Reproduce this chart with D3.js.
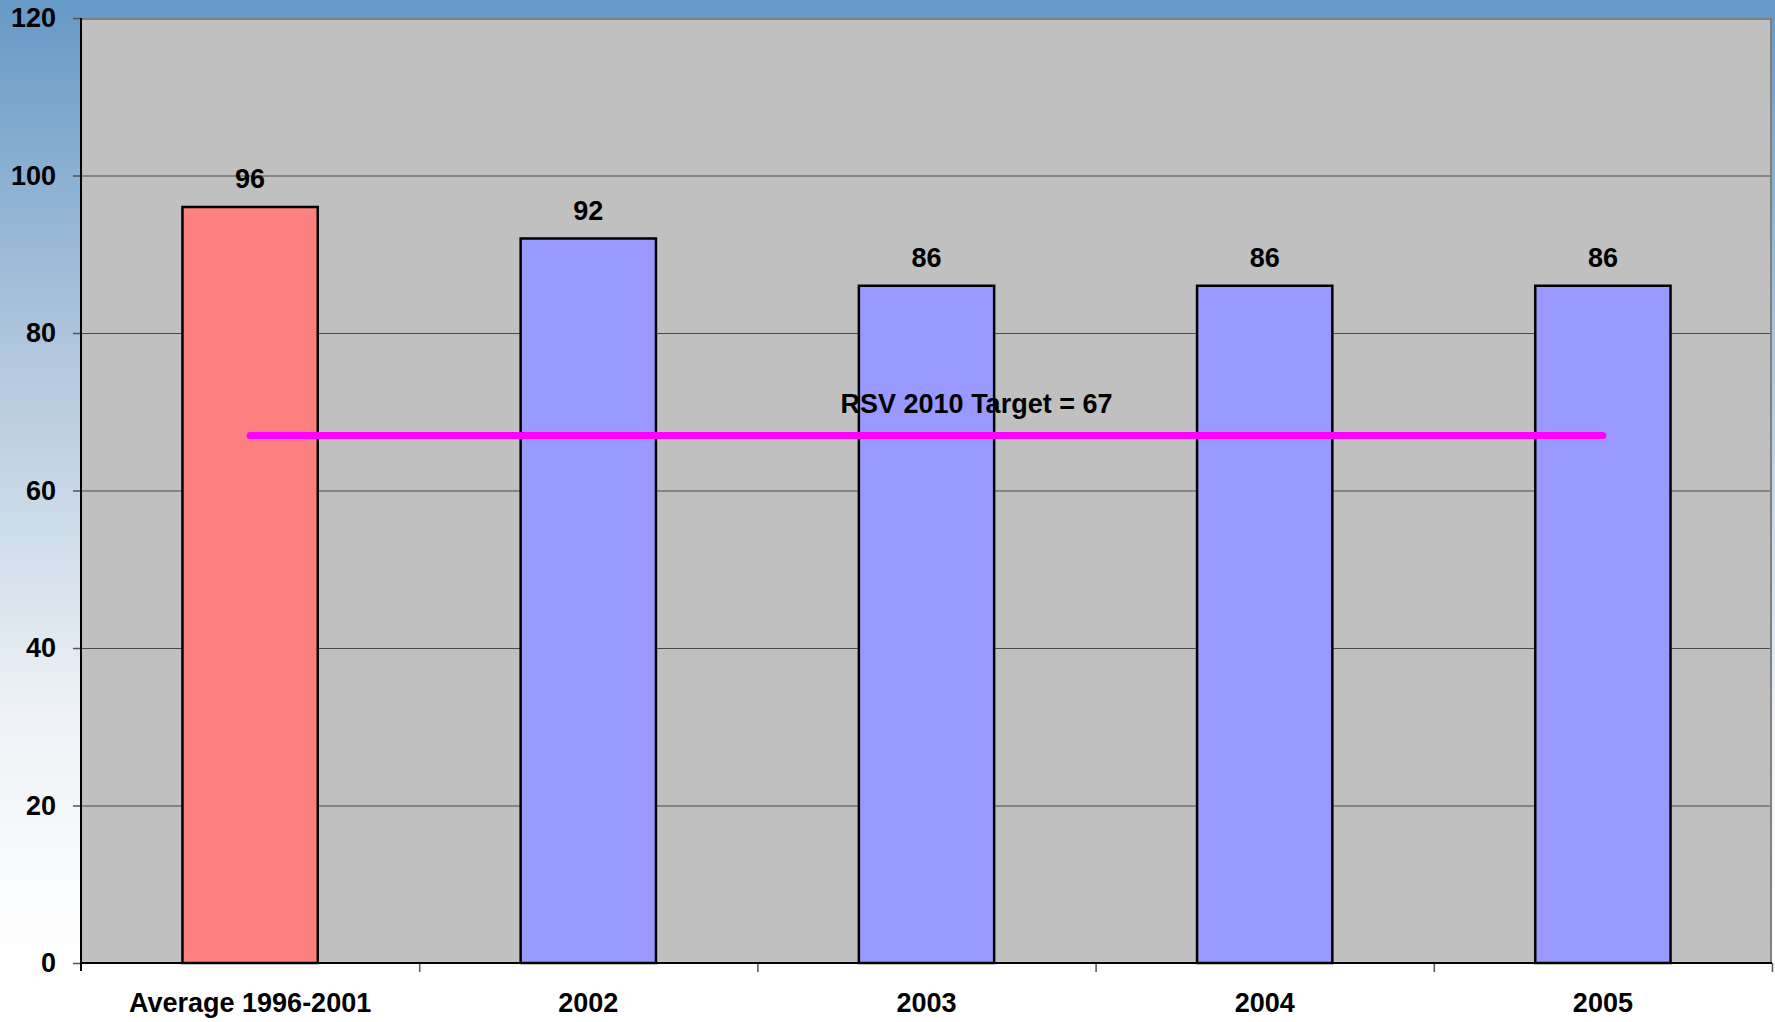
<!DOCTYPE html>
<html>
<head>
<meta charset="utf-8">
<script src="https://cdn.jsdelivr.net/npm/d3@7"></script>
<style>
  body { margin: 0; background: #fff; }
  svg { display: block; font-family: "Liberation Sans", Arial, sans-serif; font-weight: bold; }
</style>
</head>
<body>
<svg id="chart"></svg>
<script>
categories = ["Average 1996-2001", "2002", "2003", "2004", "2005"];
values = [96, 92, 86, 86, 86];
yTicks = [0, 20, 40, 60, 80, 100, 120];
targetValue = 67;
targetLabel = "RSV 2010 Target = 67";

WIDTH = 1775
HEIGHT = 1022
margin = { left: 81, right: 3, top: 18, bottom: 59 }

function drawChart() {
    var svg = d3.select("#chart")
        .attr("width", WIDTH)
        .attr("height", HEIGHT);

    // background gradient, blue at top fading to white
    var grad = svg.append("defs").append("linearGradient")
        .attr("id", "bg")
        .attr("x1", 0).attr("y1", 0).attr("x2", 0).attr("y2", 1);
    grad.append("stop").attr("offset", "0%").attr("stop-color", "#6699c6");
    grad.append("stop").attr("offset", "33%").attr("stop-color", "#adc5dc");
    grad.append("stop").attr("offset", "70%").attr("stop-color", "#eef2f6");
    grad.append("stop").attr("offset", "94%").attr("stop-color", "#ffffff");
    grad.append("stop").attr("offset", "100%").attr("stop-color", "#ffffff");
    svg.append("rect")
        .attr("width", WIDTH).attr("height", HEIGHT)
        .attr("fill", "url(#bg)");

    var x0 = margin.left, x1 = WIDTH - margin.right;
    var yTop = margin.top, yBot = HEIGHT - margin.bottom;

    var x = d3.scaleBand().domain(categories).range([x0, x1])
        .paddingInner(0.6).paddingOuter(0.3);
    var y = d3.scaleLinear().domain([0, 120]).range([yBot, yTop]);
    var edges = d3.scaleLinear().domain([0, categories.length]).range([x0, x1]);

    // white below the plot
    svg.append("rect")
        .attr("x", 0).attr("y", yBot)
        .attr("width", WIDTH).attr("height", HEIGHT - yBot)
        .attr("fill", "#fff");

    // plot area
    svg.append("rect")
        .attr("x", x0).attr("y", yTop)
        .attr("width", x1 - x0).attr("height", yBot - yTop)
        .attr("fill", "#c0c0c0");

    // gridlines
    svg.append("g").selectAll("line")
        .data(yTicks.filter(d => d > 0 && d < 120))
        .enter().append("line")
        .attr("x1", x0).attr("x2", x1)
        .attr("y1", d => y(d) + 0.5).attr("y2", d => y(d) + 0.5)
        .attr("stroke", "#4a4a4a").attr("stroke-width", 1);

    // top and right frame
    svg.append("path")
        .attr("d", "M" + x0 + "," + (yTop + 1) + "H" + (x1 - 1) + "V" + yBot)
        .attr("fill", "none").attr("stroke", "#7f7f7f").attr("stroke-width", 2);

    // bars
    svg.append("g").selectAll("rect")
        .data(values)
        .enter().append("rect")
        .attr("x", (d, i) => x(categories[i]))
        .attr("y", d => y(d))
        .attr("width", x.bandwidth())
        .attr("height", d => y(0) - y(d))
        .attr("fill", (d, i) => i === 0 ? "#ff8080" : "#9999ff")
        .attr("stroke", "#000").attr("stroke-width", 2.5);

    // value labels
    svg.append("g").selectAll("text")
        .data(values)
        .enter().append("text")
        .attr("x", (d, i) => x(categories[i]) + x.bandwidth() / 2)
        .attr("y", d => y(d) - 19)
        .attr("text-anchor", "middle")
        .attr("font-size", 27)
        .attr("fill", "#000")
        .text(d => d);

    // target line
    var cx = c => x(c) + x.bandwidth() / 2;
    svg.append("line")
        .attr("x1", cx(categories[0])).attr("x2", cx(categories[categories.length - 1]))
        .attr("y1", y(targetValue)).attr("y2", y(targetValue))
        .attr("stroke", "#ff00ff").attr("stroke-width", 7)
        .attr("stroke-linecap", "round");

    svg.append("text")
        .attr("x", cx(categories[2]) + 50)
        .attr("y", y(targetValue) - 22)
        .attr("text-anchor", "middle")
        .attr("font-size", 27)
        .attr("fill", "#000")
        .text(targetLabel);

    // y axis
    var yAxis = svg.append("g")
        .attr("transform", "translate(" + x0 + ",0)")
        .call(d3.axisLeft(y).tickValues(yTicks).tickSize(8).tickPadding(17));
    yAxis.select(".domain").remove();
    yAxis.selectAll(".tick line").attr("stroke", "#555").attr("stroke-width", 1.5);
    yAxis.selectAll("text")
        .attr("font-size", 27)
        .attr("font-family", "Liberation Sans, Arial, sans-serif")
        .attr("font-weight", "bold")
        .attr("fill", "#000");
    svg.append("line")
        .attr("x1", x0).attr("x2", x0)
        .attr("y1", yTop).attr("y2", yBot + 8)
        .attr("stroke", "#000").attr("stroke-width", 2);

    // x axis
    var xAxis = svg.append("g")
        .attr("transform", "translate(0," + yBot + ")")
        .call(d3.axisBottom(edges).tickValues(d3.range(1, categories.length + 1)).tickSize(9).tickFormat(""));
    xAxis.select(".domain").remove();
    xAxis.selectAll(".tick line").attr("stroke", "#555").attr("stroke-width", 1.5);
    svg.append("line")
        .attr("x1", x0).attr("x2", x1)
        .attr("y1", yBot).attr("y2", yBot)
        .attr("stroke", "#000").attr("stroke-width", 2);

    svg.append("g").selectAll("text")
        .data(categories)
        .enter().append("text")
        .attr("x", d => cx(d))
        .attr("y", yBot + 49)
        .attr("text-anchor", "middle")
        .attr("font-size", 27)
        .attr("fill", "#000")
        .text(d => d);
}

drawChart();
</script>
</body>
</html>
